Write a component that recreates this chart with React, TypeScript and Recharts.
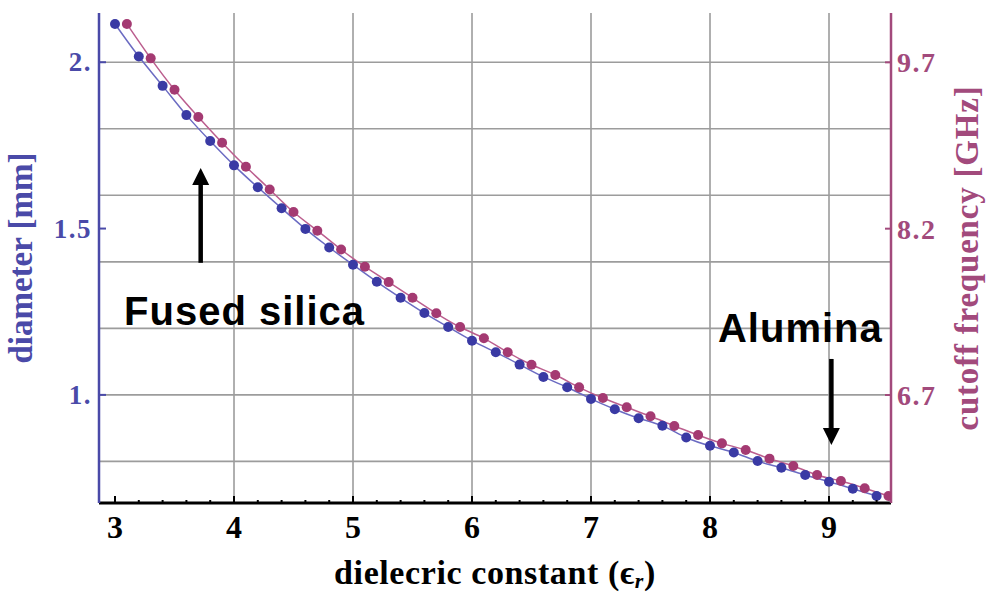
import React from 'react';
import { ComposedChart, Line, XAxis, YAxis, ReferenceLine, ReferenceDot } from 'recharts';

// dielectric constant samples (blue: diameter, purple: cutoff frequency)
const diamEps = [3.0, 3.2, 3.4, 3.6, 3.8, 4.0, 4.2, 4.4, 4.6, 4.8, 5.0, 5.2, 5.4, 5.6, 5.8, 6.0, 6.2, 6.4, 6.6, 6.8, 7.0, 7.2, 7.4, 7.6, 7.8, 8.0, 8.2, 8.4, 8.6, 8.8, 9.0, 9.2, 9.4];
const diameterMm = [2.115, 2.017, 1.929, 1.841, 1.763, 1.690, 1.624, 1.561, 1.499, 1.443, 1.391, 1.340, 1.292, 1.246, 1.204, 1.163, 1.128, 1.091, 1.054, 1.023, 0.988, 0.957, 0.930, 0.907, 0.872, 0.847, 0.827, 0.801, 0.781, 0.759, 0.739, 0.718, 0.696];
const freqEps = [3.1, 3.3, 3.5, 3.7, 3.9, 4.1, 4.3, 4.5, 4.7, 4.9, 5.1, 5.3, 5.5, 5.7, 5.9, 6.1, 6.3, 6.5, 6.7, 6.9, 7.1, 7.3, 7.5, 7.7, 7.9, 8.1, 8.3, 8.5, 8.7, 8.9, 9.1, 9.3, 9.5];
const cutoffGHz = [10.046, 9.736, 9.453, 9.207, 8.975, 8.758, 8.554, 8.350, 8.182, 8.012, 7.857, 7.718, 7.577, 7.437, 7.313, 7.211, 7.085, 6.973, 6.880, 6.769, 6.673, 6.589, 6.508, 6.421, 6.339, 6.264, 6.204, 6.126, 6.060, 5.978, 5.924, 5.859, 5.789];

const xTicks = [3, 3.2, 3.4, 3.6, 3.8, 4, 4.2, 4.4, 4.6, 4.8, 5, 5.2, 5.4, 5.6, 5.8, 6, 6.2, 6.4, 6.6, 6.8, 7, 7.2, 7.4, 7.6, 7.8, 8, 8.2, 8.4, 8.6, 8.8, 9, 9.2, 9.4];
const xGrid = [4, 5, 6, 7, 8, 9];
const leftTicks = [1, 1.5, 2];
const leftTickLabels = ['1.', '1.5', '2.'];
const rightTicks = [6.7, 8.2, 9.7];
const rightTickLabels = ['6.7', '8.2', '9.7'];
const yGrid = [0.8, 1.0, 1.2, 1.4, 1.6, 1.8, 2.0];

const X_DOMAIN: [number, number] = [2.8655, 9.521];
const L_DOMAIN: [number, number] = [0.675, 2.148];
const R_DOMAIN: [number, number] = [5.726, 10.145];

const blueData = diamEps.map((x, i) => ({ x, d: diameterMm[i] }));
const purpleData = freqEps.map((x, i) => ({ x, f: cutoffGHz[i] }));

const BLUE_DOT = '#3a3aa4';
const BLUE_LINE = '#6b6bc2';
const BLUE_AXIS = '#4a4aa8';
const PURPLE_DOT = '#a43a72';
const PURPLE_LINE = '#bb5e8e';
const PURPLE_AXIS = '#a24a7c';
const SERIF = '"Liberation Serif", "Times New Roman", serif';
const SANS = '"Liberation Sans", Arial, sans-serif';

const isMajor = (v: number) => Math.abs(v - Math.round(v)) < 1e-6;

const BottomTick = (p: any) => {
  const v = p.payload.value;
  const major = isMajor(v);
  return (
    <g>
      <line x1={p.x} x2={p.x} y1={p.y} y2={p.y - (major ? 7 : 3)} stroke="#000" strokeWidth={2} />
      {major && (
        <text x={p.x} y={p.y + 35} textAnchor="middle" fontFamily={SERIF} fontWeight="bold" fontSize={32} fill="#000">
          {v}
        </text>
      )}
    </g>
  );
};

const TopTick = (p: any) => {
  const v = p.payload.value;
  const major = isMajor(v);
  return <line x1={p.x} x2={p.x} y1={p.y} y2={p.y + (major ? 6 : 4)} stroke="#000" strokeWidth={2} />;
};

const LeftTick = (p: any) => {
  const v = p.payload.value;
  const idx = leftTicks.indexOf(v);
  return (
    <g>
      <line x1={p.x} x2={p.x + 7} y1={p.y} y2={p.y} stroke={BLUE_AXIS} strokeWidth={2} />
      <text x={p.x - 7} y={p.y + 9} textAnchor="end" fontFamily={SERIF} fontWeight="bold" fontSize={27} letterSpacing={1.5} fill={BLUE_AXIS}>
        {leftTickLabels[idx]}
      </text>
    </g>
  );
};

const RightTick = (p: any) => {
  const v = p.payload.value;
  const idx = rightTicks.indexOf(v);
  return (
    <g>
      <line x1={p.x} x2={p.x - 6} y1={p.y} y2={p.y} stroke={PURPLE_AXIS} strokeWidth={2} />
      <text x={p.x + 6} y={p.y + 10} textAnchor="start" fontFamily={SERIF} fontWeight="bold" fontSize={28} letterSpacing={1.5} fill={PURPLE_AXIS}>
        {rightTickLabels[idx]}
      </text>
    </g>
  );
};

const Arrow = (p: any) => {
  const { x1, y1, x2, y2 } = p;
  const dir = y2 > y1 ? 1 : -1;
  const head = 17;
  const half = 8.5;
  const baseY = y2 - dir * head;
  return (
    <g>
      <line x1={x1} y1={y1} x2={x2} y2={baseY} stroke="#000" strokeWidth={4.5} />
      <polygon points={`${x2 - half},${baseY} ${x2 + half},${baseY} ${x2},${y2}`} fill="#000" />
    </g>
  );
};

const makeText = (label: string) => (p: any) => (
  <text x={p.cx} y={p.cy} textAnchor="start" fontFamily={SANS} fontWeight="bold" fontSize={40} letterSpacing={1} fill="#000">
    {label}
  </text>
);

const LeftTitle = (p: any) => {
  const vb = p.viewBox;
  const cx = vb.x + 21;
  const cy = vb.y + vb.height / 2;
  return (
    <text x={cx} y={cy} transform={`rotate(-90 ${cx} ${cy})`} textAnchor="middle" dominantBaseline="central" fontFamily={SERIF} fontWeight="bold" fontSize={33} fill={BLUE_AXIS}>
      diameter [mm]
    </text>
  );
};

const RightTitle = (p: any) => {
  const vb = p.viewBox;
  const cx = vb.x + 76;
  const cy = vb.y + vb.height / 2;
  return (
    <text x={cx} y={cy} transform={`rotate(-90 ${cx} ${cy})`} textAnchor="middle" dominantBaseline="central" fontFamily={SERIF} fontWeight="bold" fontSize={33} letterSpacing={0.8} fill={PURPLE_AXIS}>
      cutoff frequency [GHz]
    </text>
  );
};

const BottomTitle = (p: any) => {
  const vb = p.viewBox;
  const cx = vb.x + vb.width / 2;
  const y = vb.y + 81;
  return (
    <text x={cx} y={y} textAnchor="middle" fontFamily={SERIF} fontWeight="bold" fontSize={34} letterSpacing={0.6} fill="#000">
      dielecric constant (ϵ
      <tspan fontStyle="italic" fontSize={22} dy={4}>r</tspan>
      <tspan dy={-4}>)</tspan>
    </text>
  );
};

export default function App() {
  return (
    <div style={{ position: 'absolute', left: 0, top: 0, background: '#fff' }}>
      <ComposedChart width={986} height={593} margin={{ top: 13, right: 0, bottom: 0, left: 0 }}>
        <XAxis
          xAxisId="b"
          type="number"
          dataKey="x"
          domain={X_DOMAIN}
          allowDataOverflow
          ticks={xTicks}
          interval={0}
          height={90}
          tickSize={0}
          tickMargin={0}
          tickLine={false}
          axisLine={{ stroke: '#000', strokeWidth: 3 }}
          tick={BottomTick}
          label={{ content: BottomTitle }}
        />
        <XAxis
          xAxisId="t"
          orientation="top"
          type="number"
          dataKey="x"
          domain={X_DOMAIN}
          allowDataOverflow
          ticks={xTicks}
          interval={0}
          height={0}
          tickSize={0}
          tickMargin={0}
          tickLine={false}
          axisLine={{ stroke: '#000', strokeWidth: 3 }}
          tick={TopTick}
        />
        <YAxis
          yAxisId="l"
          type="number"
          domain={L_DOMAIN}
          allowDataOverflow
          ticks={leftTicks}
          interval={0}
          width={99}
          tickSize={0}
          tickMargin={0}
          tickLine={false}
          axisLine={{ stroke: BLUE_AXIS, strokeWidth: 2.5 }}
          tick={LeftTick}
          label={{ content: LeftTitle }}
        />
        <YAxis
          yAxisId="r"
          orientation="right"
          type="number"
          domain={R_DOMAIN}
          allowDataOverflow
          ticks={rightTicks}
          interval={0}
          width={95}
          tickSize={0}
          tickMargin={0}
          tickLine={false}
          axisLine={{ stroke: PURPLE_AXIS, strokeWidth: 2.5 }}
          tick={RightTick}
          label={{ content: RightTitle }}
        />
        {xGrid.map((g) => (
          <ReferenceLine key={'vx' + g} xAxisId="b" yAxisId="l" x={g} stroke="#9c9c9c" strokeWidth={1.6} />
        ))}
        {yGrid.map((g) => (
          <ReferenceLine key={'hy' + g} xAxisId="b" yAxisId="l" y={g} stroke="#9c9c9c" strokeWidth={1.6} />
        ))}
        <Line
          xAxisId="b"
          yAxisId="l"
          data={blueData}
          dataKey="d"
          type="natural"
          stroke={BLUE_LINE}
          strokeWidth={1.5}
          dot={{ r: 5, fill: BLUE_DOT, stroke: 'none' }}
          activeDot={false}
          isAnimationActive={false}
        />
        <Line
          xAxisId="b"
          yAxisId="r"
          data={purpleData}
          dataKey="f"
          type="natural"
          stroke={PURPLE_LINE}
          strokeWidth={1.5}
          dot={{ r: 5, fill: PURPLE_DOT, stroke: 'none' }}
          activeDot={false}
          isAnimationActive={false}
        />
        <ReferenceLine xAxisId="b" yAxisId="l" segment={[{ x: 3.72, y: 1.397 }, { x: 3.72, y: 1.682 }]} shape={Arrow} />
        <ReferenceLine xAxisId="b" yAxisId="l" segment={[{ x: 9.02, y: 1.108 }, { x: 9.02, y: 0.849 }]} shape={Arrow} />
        <ReferenceDot xAxisId="b" yAxisId="l" x={3.076} y={1.2104} r={1} shape={makeText('Fused silica')} />
        <ReferenceDot xAxisId="b" yAxisId="l" x={8.067} y={1.1593} r={1} shape={makeText('Alumina')} />
      </ComposedChart>
    </div>
  );
}
